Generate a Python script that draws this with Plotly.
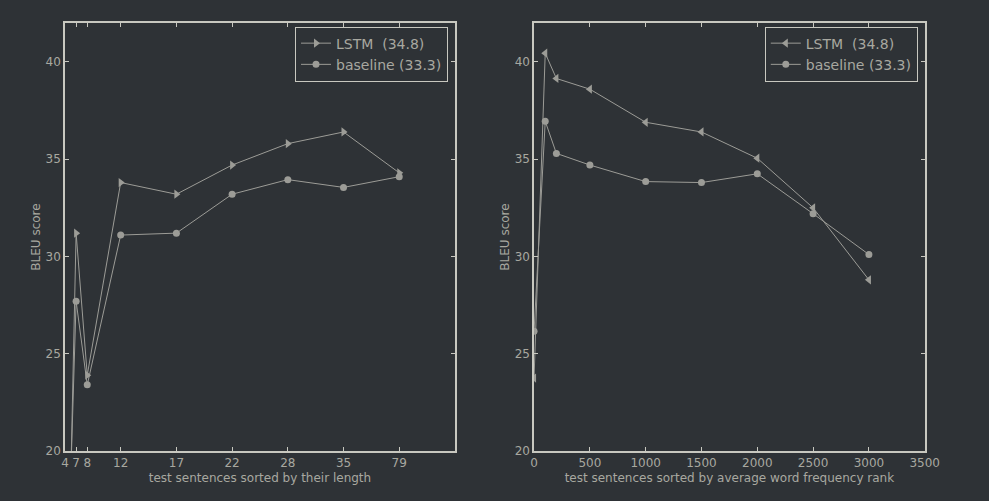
import plotly.graph_objects as go
from plotly.subplots import make_subplots

# left panel: sentence-length buckets (plotted at evenly spaced positions)
len_pos = [0, 1, 2, 5, 10, 15, 20, 25, 30]
len_labels = ["4", "7", "8", "12", "17", "22", "28", "35", "79"]
lstm_len = [5.0, 31.2, 23.9, 33.8, 33.2, 34.7, 35.8, 36.4, 34.3]
base_len = [9.0, 27.7, 23.4, 31.1, 31.2, 33.2, 33.95, 33.55, 34.1]

# right panel: average word frequency rank
rank_x = [0, 100, 200, 500, 1000, 1500, 2000, 2500, 3000]
lstm_rank = [23.75, 40.45, 39.15, 38.6, 36.9, 36.4, 35.05, 32.5, 28.8]
base_rank = [26.15, 36.95, 35.3, 34.7, 33.85, 33.8, 34.25, 32.2, 30.1]

BG = "#2e3236"
AXIS = "#c8c8c0"
TEXT = "#a8a8a0"
LINE = "#9c9c97"
FONT = "DejaVu Sans"

fig = make_subplots(rows=1, cols=2)

fig.add_trace(go.Scatter(
    x=len_pos, y=lstm_len, name="LSTM  (34.8)", mode="lines+markers",
    line=dict(color=LINE, width=1),
    marker=dict(symbol="triangle-right", size=8, color=LINE),
    legend="legend"), row=1, col=1)
fig.add_trace(go.Scatter(
    x=len_pos, y=base_len, name="baseline (33.3)", mode="lines+markers",
    line=dict(color=LINE, width=1),
    marker=dict(symbol="circle", size=7, color=LINE),
    legend="legend"), row=1, col=1)

fig.add_trace(go.Scatter(
    x=rank_x, y=lstm_rank, name="LSTM  (34.8)", mode="lines+markers",
    line=dict(color=LINE, width=1),
    marker=dict(symbol="triangle-left", size=8, color=LINE),
    legend="legend2"), row=1, col=2)
fig.add_trace(go.Scatter(
    x=rank_x, y=base_rank, name="baseline (33.3)", mode="lines+markers",
    line=dict(color=LINE, width=1),
    marker=dict(symbol="circle", size=7, color=LINE),
    legend="legend2"), row=1, col=2)

axis_style = dict(
    showline=True, linecolor=AXIS, linewidth=1.5, mirror="ticks",
    ticks="inside", ticklen=4, tickcolor=AXIS, showgrid=False, zeroline=False,
    automargin=False,
    tickfont=dict(family=FONT, size=12, color=TEXT),
)

fig.update_xaxes(axis_style)
fig.update_yaxes(axis_style)

fig.update_xaxes(range=[0, 35], tickmode="array", tickvals=len_pos, ticktext=len_labels,
                 domain=[0.0657, 0.460],
                 title=dict(text="test sentences sorted by their length", standoff=4,
                            font=dict(family=FONT, size=12, color=TEXT)),
                 row=1, col=1)
fig.update_xaxes(range=[0, 3500], dtick=500, domain=[0.540, 0.935],
                 title=dict(text="test sentences sorted by average word frequency rank", standoff=4,
                            font=dict(family=FONT, size=12, color=TEXT)),
                 row=1, col=2)
fig.update_yaxes(range=[20, 42], tickvals=[20, 25, 30, 35, 40], domain=[0.0998, 0.954],
                 title=dict(text="BLEU score", standoff=2,
                            font=dict(family=FONT, size=12, color=TEXT)))

legend_style = dict(
    bgcolor=BG, bordercolor=AXIS, borderwidth=1,
    font=dict(family=FONT, size=14, color=TEXT),
    xanchor="right", yanchor="top", tracegroupgap=0,
)
fig.update_layout(
    legend=dict(legend_style, x=0.453, y=0.947),
    legend2=dict(legend_style, x=0.928, y=0.947),
    width=989, height=501,
    margin=dict(l=0, r=0, t=0, b=0),
    paper_bgcolor=BG, plot_bgcolor=BG,
    font=dict(family=FONT, color=TEXT),
)

# page has a default body margin; remove it (and scrollbars) so the figure fills the window
page_js = ("document.documentElement.style.overflow='hidden';"
           "document.body.style.overflow='hidden';"
           "document.body.style.margin='0';"
           "document.body.style.background='%s';" % BG)
fig.write_html("out.html", config={"displayModeBar": False}, post_script=page_js)
